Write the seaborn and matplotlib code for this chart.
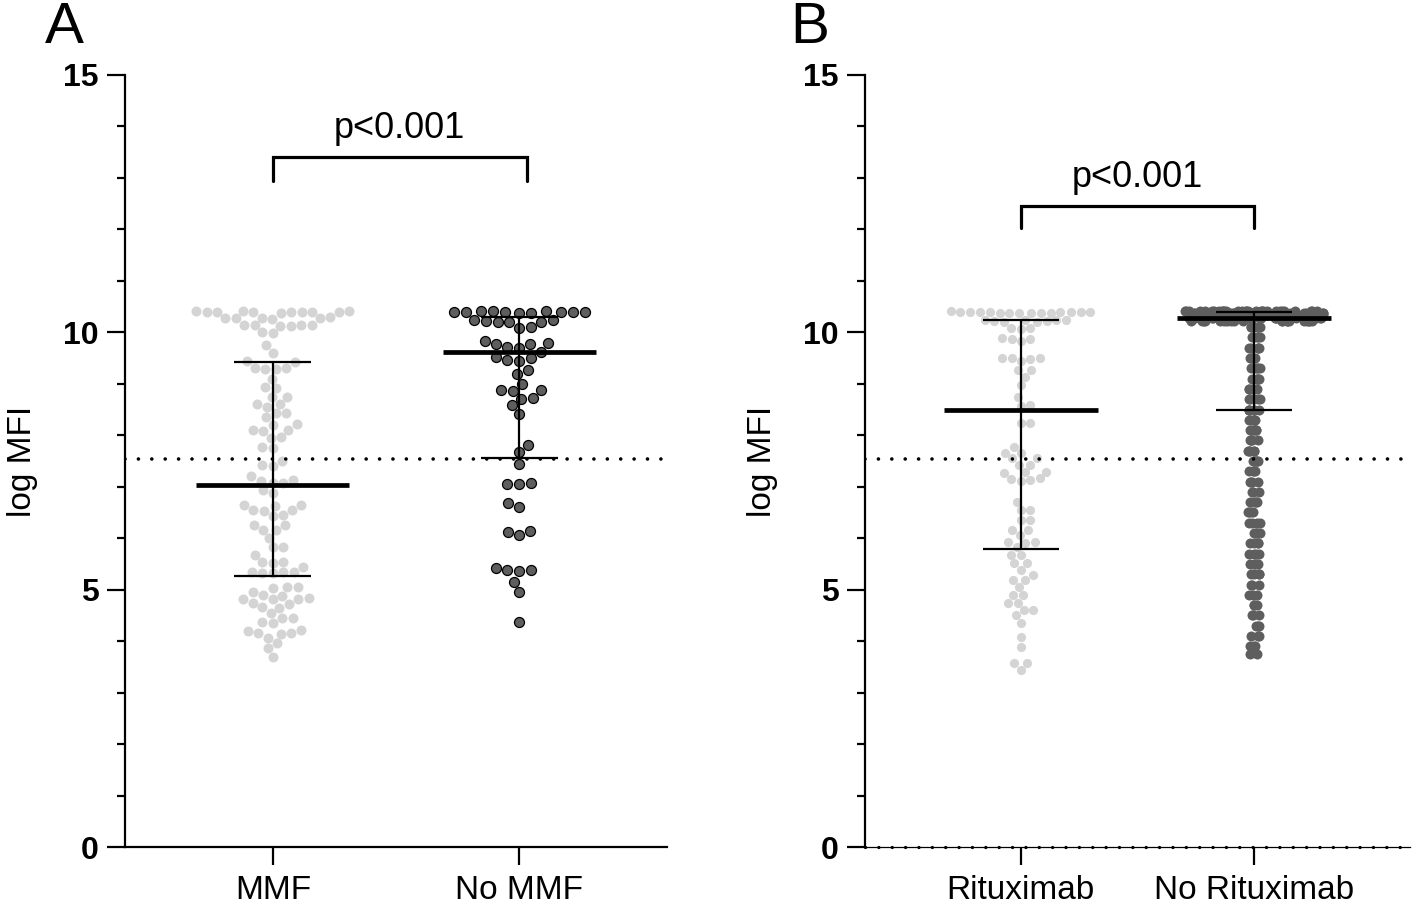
import numpy as np
import pandas as pd
import matplotlib.pyplot as plt
import seaborn as sns
from matplotlib.ticker import MultipleLocator

# log MFI values
mmf = [10.42, 10.41, 10.40, 10.40, 10.39, 10.39, 10.38, 10.40, 10.41, 10.39, 10.40,
       10.29, 10.28, 10.27, 10.28, 10.26, 10.27,
       10.15, 10.14, 10.13, 10.15, 10.14, 10.13, 10.01, 9.99,
       9.75, 9.60, 9.44, 9.42, 9.30, 9.31, 9.29, 9.28, 9.10, 8.93, 8.92, 8.75, 8.74,
       8.60, 8.61, 8.55, 8.43, 8.44, 8.35, 8.20, 8.21, 8.10, 8.09, 8.11, 7.96, 7.95,
       7.77, 7.76, 7.50, 7.42, 7.41, 7.20, 7.08, 7.07, 7.13, 7.12, 6.93, 6.87,
       6.64, 6.63, 6.65, 6.54, 6.55, 6.53, 6.45, 6.44, 6.25, 6.26, 6.16, 6.15, 6.00,
       5.83, 5.82, 5.67, 5.53, 5.52, 5.54, 5.44, 5.34, 5.33, 5.35, 5.34, 5.32,
       5.05, 5.04, 5.06, 4.95, 4.89, 4.88, 4.82, 4.81, 4.83, 4.82, 4.74, 4.73,
       4.66, 4.65, 4.54, 4.45, 4.44, 4.37, 4.35, 4.21, 4.20, 4.15, 4.14, 4.16,
       4.06, 3.96, 3.86, 3.69]

no_mmf = [10.41, 10.40, 10.39, 10.38, 10.40, 10.39, 10.41, 10.38, 10.40, 10.39, 10.42,
          10.23, 10.21, 10.20, 10.22, 10.21, 10.23,
          10.10, 10.08, 9.84, 9.78, 9.79, 9.77, 9.70, 9.71, 9.61, 9.51, 9.52, 9.46, 9.45,
          9.26, 9.20, 9.00, 8.87, 8.88, 8.86, 8.72, 8.71, 8.58, 8.41, 7.81, 7.67, 7.45,
          7.06, 7.05, 7.07, 6.68, 6.60, 6.14, 6.13, 6.06, 5.43, 5.38, 5.37, 5.39,
          5.15, 4.95, 4.37]

ritux = [10.40, 10.39, 10.38, 10.40, 10.37, 10.39, 10.41, 10.38, 10.40, 10.39, 10.37,
         10.38, 10.40, 10.39, 10.38, 10.24, 10.22, 10.23, 10.21, 10.24, 10.22,
         10.23, 10.21, 10.08, 10.07, 10.09, 9.88, 9.87, 9.89, 9.83, 9.50, 9.51, 9.49, 9.50,
         9.45, 9.26, 9.27, 9.13, 8.97, 8.74, 8.58, 8.57, 8.23, 8.24, 7.77, 7.65, 7.66,
         7.55, 7.56, 7.42, 7.43, 7.28, 7.29, 7.27, 7.16, 7.15, 7.13, 7.12, 6.70, 6.54,
         6.55, 6.35, 6.36, 6.16, 6.15, 6.06, 5.92, 5.93, 5.91, 5.83, 5.67, 5.68, 5.51,
         5.52, 5.38, 5.28, 5.18, 5.19, 5.05, 4.89, 4.90, 4.74, 4.75, 4.60, 4.61, 4.50,
         4.35, 4.08, 3.88, 3.57, 3.58, 3.44]

# No Rituximab is too dense to read point by point: value bins and counts
no_ritux_vals = [10.42, 10.38, 10.33, 10.28, 10.22,
                 10.1, 9.9, 9.7, 9.5, 9.3, 9.1, 8.9, 8.7, 8.5, 8.3, 8.1, 7.9, 7.7, 7.5,
                 7.3, 7.1, 6.9, 6.7, 6.5, 6.3, 6.1, 5.9, 5.7, 5.5, 5.3, 5.1, 4.9, 4.7,
                 4.5, 4.3, 4.1, 3.9, 3.75]
no_ritux_counts = [30, 40, 35, 30, 20,
                   6, 5, 5, 5, 5, 5, 5, 5, 6, 5, 5, 5, 5, 5,
                   4, 4, 3, 4, 4, 4, 4, 4, 4, 4, 4, 3, 3, 3,
                   3, 3, 3, 3, 2]

groups_a = ["MMF", "No MMF"]
groups_b = ["Rituximab", "No Rituximab"]

# median and range bars as drawn
med_a = [7.03, 9.61]
lo_a = [5.26, 7.55]
hi_a = [9.42, 10.29]
med_b = [8.50, 10.27]
lo_b = [5.79, 8.50]
hi_b = [10.23, 10.39]

cutoff = 7.53
p_text = "p<0.001"

light = "#d4d4d4"
dark = "#5e5e5e"

sns.set_style("ticks")
plt.rcParams['font.family'] = ['Liberation Sans', 'DejaVu Sans']
for key in ["text.color", "axes.labelcolor", "xtick.color", "ytick.color", "axes.edgecolor"]:
    plt.rcParams[key] = "black"

fig = plt.figure(figsize=(14.16, 9.05), dpi=100)
W, H = 1416, 905
axA = fig.add_axes([125 / W, 1 - 847 / H, 542 / W, 772 / H])
axB = fig.add_axes([865 / W, 1 - 847 / H, 545 / W, 772 / H])

df_a = pd.DataFrame({"group": ["MMF"] * len(mmf) + ["No MMF"] * len(no_mmf),
                     "logmfi": mmf + no_mmf})
sns.swarmplot(data=df_a[df_a.group == "MMF"], x="group", y="logmfi", order=groups_a,
              color=light, size=7.2, linewidth=0, ax=axA, zorder=2)
sns.swarmplot(data=df_a[df_a.group == "No MMF"], x="group", y="logmfi", order=groups_a,
              color=dark, edgecolor="black", linewidth=0.9, size=7.2, ax=axA, zorder=2)

sns.swarmplot(x=["Rituximab"] * len(ritux), y=ritux, order=groups_b,
              color=light, size=6.6, linewidth=0, ax=axB, zorder=2)
nr = np.repeat(no_ritux_vals, no_ritux_counts)
band = nr[nr >= 10.15]
column = nr[nr < 10.15]
np.random.seed(3)
sns.stripplot(x=["No Rituximab"] * len(band), y=band, order=groups_b, jitter=0.31,
              color=dark, size=7.2, linewidth=0, ax=axB, zorder=2)
sns.stripplot(x=["No Rituximab"] * len(column), y=column, order=groups_b, jitter=0.025,
              color=dark, size=7.2, linewidth=0, ax=axB, zorder=2)


def style_axis(ax, xlim):
    ax.set_xlim(*xlim)
    ax.set_ylim(0, 15)
    ax.set_yticks([0, 5, 10, 15])
    ax.yaxis.set_minor_locator(MultipleLocator(1))
    ax.tick_params(axis="y", which="major", length=13, width=1.6, labelsize=23, pad=6)
    ax.tick_params(axis="y", which="minor", length=6, width=1.6)
    ax.tick_params(axis="x", length=13, width=1.6, labelsize=24, pad=7)
    for lbl in ax.get_yticklabels():
        lbl.set_fontweight("bold")
    for s in ["top", "right"]:
        ax.spines[s].set_visible(False)
    for s in ["left", "bottom"]:
        ax.spines[s].set_linewidth(1.6)
        ax.spines[s].set_color("black")
    ax.set_xlabel("")
    ax.set_ylabel("log MFI", fontsize=24)
    ax.yaxis.set_label_coords(-0.16, 0.5)
    ax.axhline(cutoff, color="black", lw=2.6, linestyle=(0, (0.01, 3.7)),
               dash_capstyle="round", zorder=3)


def draw_bars(ax, med, lo, hi, half_med, half_cap):
    for i in range(len(med)):
        ax.hlines(med[i], i - half_med, i + half_med, color="black", lw=3.4, zorder=5)
        ax.vlines(i, lo[i], hi[i], color="black", lw=1.6, zorder=5)
        ax.hlines([lo[i], hi[i]], i - half_cap, i + half_cap, color="black", lw=1.6, zorder=5)


def bracket(ax, x0, x1, y, drop, ytext):
    ax.plot([x0, x0, x1, x1], [y - drop, y, y, y - drop], color="black", lw=2.3,
            solid_joinstyle="miter", zorder=5)
    ax.text((x0 + x1) / 2, ytext, p_text, ha="center", va="baseline", fontsize=26)


style_axis(axA, (-0.6, 1.6))
draw_bars(axA, med_a, lo_a, hi_a, 0.31, 0.156)
bracket(axA, 0, 1.03, 13.4, 0.45, 13.77)

style_axis(axB, (-0.667, 1.667))
axB.spines["bottom"].set_linewidth(0.9)
axB.axhline(0, color="black", lw=2.4, linestyle=(0, (0.01, 4.0)),
            dash_capstyle="round", clip_on=False, zorder=4)
draw_bars(axB, med_b, lo_b, hi_b, 0.33, 0.163)
bracket(axB, 0, 1.0, 12.45, 0.43, 12.83)

fig.text(45 / W, 1 - 43 / H, "A", fontsize=42, va="baseline", ha="left")
fig.text(790 / W, 1 - 43 / H, "B", fontsize=42, va="baseline", ha="left")

fig.savefig("out.png", dpi=100)
